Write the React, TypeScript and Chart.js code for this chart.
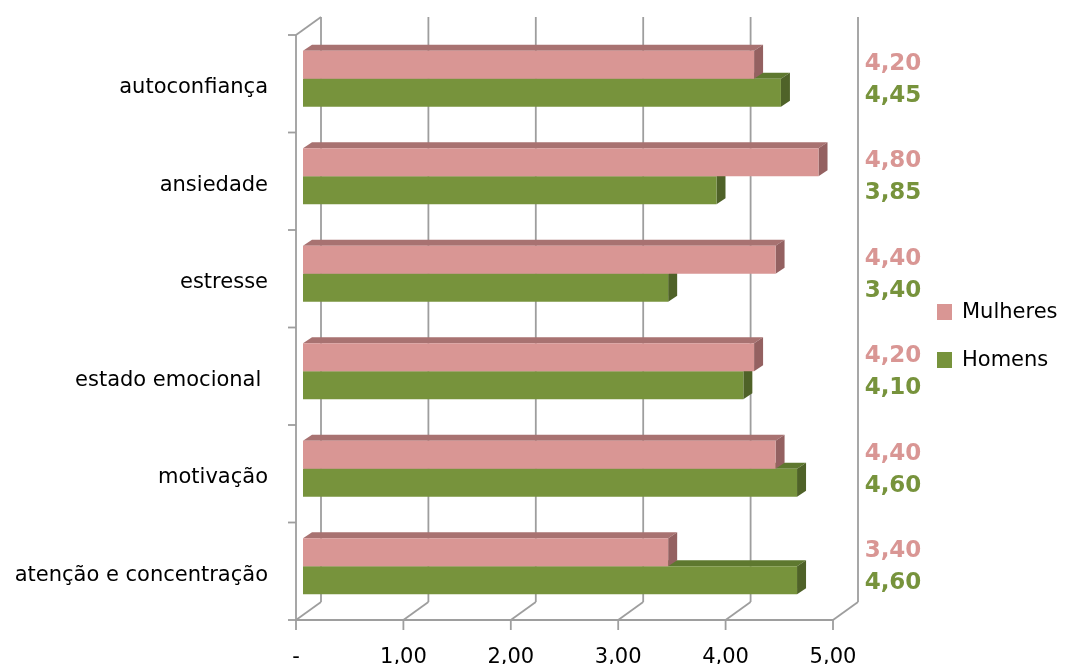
import React, { useEffect, useRef } from 'react';
import { Chart, registerables } from 'chart.js';

Chart.register(...registerables);

const categories = [
  'autoconfiança',
  'ansiedade',
  'estresse',
  'estado emocional ',
  'motivação',
  'atenção e concentração',
];
const seriesNames = ['Mulheres', 'Homens'];
const mulheres = [4.2, 4.8, 4.4, 4.2, 4.4, 3.4];
const homens = [4.45, 3.85, 3.4, 4.1, 4.6, 4.6];
const xTicks = [0, 1, 2, 3, 4, 5];

const FRONT = { dx: -7, dy: 5 };
const BACK = { dx: 18, dy: -13 };
const BAR_DEPTH = { dx: 9, dy: -6 };
const FRONT_COLORS = ['#D99694', '#77933C'];
const TOP_COLORS = ['#A87271', '#5E782F'];
const SIDE_COLORS = ['#946161', '#4F6228'];
const LABEL_OFFSETS = [-1, 3];
const GRID_COLOR = '#9E9E9E';
const FONT = 'DejaVu Sans';

const fmt = (v: number) => (v === 0 ? '-' : v.toFixed(2).replace('.', ','));

const wallsPlugin = {
  id: 'walls',
  beforeDatasetsDraw(chart: any) {
    const { ctx, chartArea: a, scales } = chart;
    const x = scales.x;
    const y = scales.y;
    ctx.save();
    ctx.strokeStyle = GRID_COLOR;
    ctx.lineWidth = 1.8;
    const line = (x1: number, y1: number, x2: number, y2: number) => {
      ctx.beginPath();
      ctx.moveTo(x1, y1);
      ctx.lineTo(x2, y2);
      ctx.stroke();
    };
    const backTop = a.top + BACK.dy;
    const backBottom = a.bottom + BACK.dy;
    const frontTop = a.top + FRONT.dy;
    const frontBottom = a.bottom + FRONT.dy;
    xTicks.forEach((v) => {
      const px = x.getPixelForValue(v);
      line(px + BACK.dx, backTop, px + BACK.dx, backBottom);
      line(px + BACK.dx, backBottom, px + FRONT.dx, frontBottom);
      line(px + FRONT.dx, frontBottom, px + FRONT.dx, frontBottom + 10);
    });
    const x0 = x.getPixelForValue(xTicks[0]);
    const xN = x.getPixelForValue(xTicks[xTicks.length - 1]);
    line(x0 + FRONT.dx, frontBottom, xN + FRONT.dx, frontBottom);
    line(x0 + FRONT.dx, frontTop, x0 + FRONT.dx, frontBottom);
    line(x0 + FRONT.dx, frontTop, x0 + BACK.dx, backTop);
    for (let i = 0; i <= categories.length; i++) {
      const py = y.getPixelForValue(i - 0.5) + FRONT.dy;
      line(x0 + FRONT.dx - 8, py, x0 + FRONT.dx, py);
    }
    ctx.restore();
  },
};

const bar3dPlugin = {
  id: 'bar3d',
  beforeDatasetsDraw(chart: any) {
    const { ctx } = chart;
    ctx.save();
    for (let d = chart.data.datasets.length - 1; d >= 0; d--) {
      const meta = chart.getDatasetMeta(d);
      meta.data.forEach((el: any) => {
        const p = el.getProps(['x', 'y', 'base', 'height'], true);
        const top = p.y - p.height / 2;
        const bottom = p.y + p.height / 2;
        ctx.fillStyle = TOP_COLORS[d];
        ctx.beginPath();
        ctx.moveTo(p.base, top);
        ctx.lineTo(p.x, top);
        ctx.lineTo(p.x + BAR_DEPTH.dx, top + BAR_DEPTH.dy);
        ctx.lineTo(p.base + BAR_DEPTH.dx, top + BAR_DEPTH.dy);
        ctx.closePath();
        ctx.fill();
        ctx.fillStyle = SIDE_COLORS[d];
        ctx.beginPath();
        ctx.moveTo(p.x, top);
        ctx.lineTo(p.x + BAR_DEPTH.dx, top + BAR_DEPTH.dy);
        ctx.lineTo(p.x + BAR_DEPTH.dx, bottom + BAR_DEPTH.dy);
        ctx.lineTo(p.x, bottom);
        ctx.closePath();
        ctx.fill();
      });
    }
    ctx.restore();
  },
};

const labelsPlugin = {
  id: 'valueLabels',
  afterDatasetsDraw(chart: any) {
    const { ctx, chartArea: a } = chart;
    ctx.save();
    ctx.font = `bold 23px "${FONT}"`;
    ctx.textAlign = 'center';
    ctx.textBaseline = 'middle';
    chart.data.datasets.forEach((ds: any, d: number) => {
      const meta = chart.getDatasetMeta(d);
      meta.data.forEach((el: any, i: number) => {
        ctx.fillStyle = FRONT_COLORS[d];
        ctx.fillText(fmt(ds.data[i]), a.right + 53, el.y + LABEL_OFFSETS[d]);
      });
    });
    // legend
    ctx.font = `21px "${FONT}"`;
    ctx.textAlign = 'left';
    const legendX = a.right + 97;
    const legendY = [312, 360];
    chart.data.datasets.forEach((ds: any, d: number) => {
      ctx.fillStyle = FRONT_COLORS[d];
      ctx.fillRect(legendX, legendY[d] - 8, 15, 16);
      ctx.fillStyle = '#000000';
      ctx.fillText(ds.label, legendX + 25, legendY[d] + 1);
    });
    ctx.restore();
  },
};

export default function App() {
  const ref = useRef<HTMLCanvasElement>(null);
  useEffect(() => {
    document.body.style.margin = '0';
    const canvas = ref.current;
    if (!canvas) return;
    Chart.defaults.font.family = FONT;
    const chart = new Chart(canvas, {
      type: 'bar',
      data: {
        labels: categories,
        datasets: [
          { label: seriesNames[0], data: mulheres, backgroundColor: FRONT_COLORS[0], borderWidth: 0 },
          { label: seriesNames[1], data: homens, backgroundColor: FRONT_COLORS[1], borderWidth: 0 },
        ],
      },
      options: {
        indexAxis: 'y',
        responsive: false,
        animation: false,
        devicePixelRatio: 1,
        events: [],
        layout: { padding: { left: 0, top: 30, right: 226, bottom: 0 } },
        datasets: { bar: { categoryPercentage: 0.575, barPercentage: 1 } },
        plugins: { legend: { display: false }, tooltip: { enabled: false } },
        scales: {
          x: {
            type: 'linear',
            min: 0,
            max: 5,
            grid: { display: false, drawTicks: false },
            border: { display: false },
            ticks: {
              stepSize: 1,
              maxRotation: 0,
              autoSkip: false,
              padding: 30,
              labelOffset: -7,
              color: '#000000',
              font: { size: 21 },
              callback: (v: any) => fmt(Number(v)),
            },
            afterFit: (s: any) => {
              s.height = 49;
              s.paddingLeft = 0;
              s.paddingRight = 0;
            },
          },
          y: {
            type: 'category',
            grid: { display: false, drawTicks: false },
            border: { display: false },
            ticks: {
              padding: 35,
              labelOffset: 9,
              color: '#000000',
              font: { size: 21 },
              autoSkip: false,
            },
            afterFit: (s: any) => {
              s.width = 303;
              s.paddingTop = 0;
              s.paddingBottom = 0;
            },
          },
        },
      },
      plugins: [wallsPlugin, bar3dPlugin, labelsPlugin],
    });
    return () => chart.destroy();
  }, []);
  return (
    <div style={{ width: 1066, height: 664, background: '#ffffff' }}>
      <canvas ref={ref} width={1066} height={664} style={{ display: 'block' }} />
    </div>
  );
}
